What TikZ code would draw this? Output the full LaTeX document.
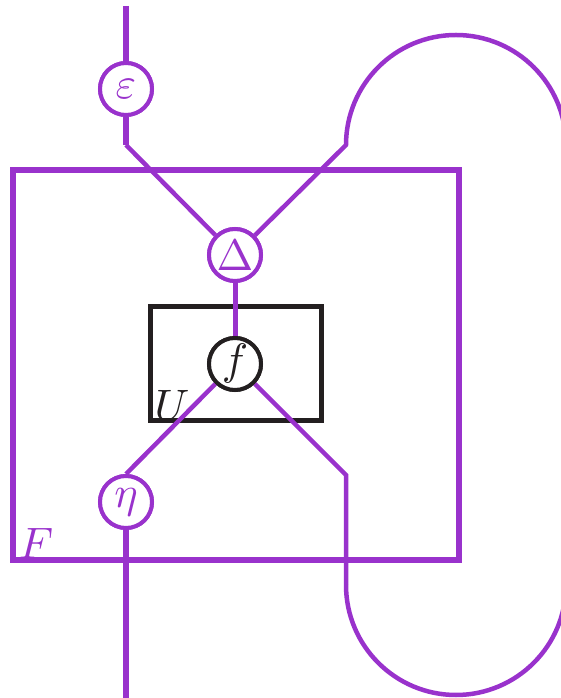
\documentclass[tikz,border=0pt]{standalone}
\usepackage{graphicx}
\definecolor{orch}{RGB}{153,50,204}
\definecolor{ink}{RGB}{35,31,32}
\newcommand{\bigsym}[1]{\scalebox{4.4}{$#1$}}
\begin{document}
\begin{tikzpicture}[x=1pt,y=1pt,
  wire/.style={draw=orch,line width=4.5pt},
  thickwire/.style={draw=orch,line width=6pt},
  frame/.style={draw=orch,line width=5.5pt},
  ubox/.style={draw=ink,line width=5pt},
  pnode/.style={circle,draw=orch,fill=white,line width=4pt,minimum size=52pt,inner sep=0pt,text=orch},
  knode/.style={circle,draw=ink,fill=white,line width=4pt,minimum size=52pt,inner sep=0pt,text=ink},
  lbl/.style={inner sep=0pt}]
\useasboundingbox (0,0) rectangle (561,698);
\clip (0,0) rectangle (561,698);
% coordinates
\coordinate (top) at (126,692);
\coordinate (c1) at (126,553);
\coordinate (c2) at (346,553);
\coordinate (c4) at (346,223);
\coordinate (c5) at (346,113);
\coordinate (bot) at (126,0);
% boxes
\draw[frame] (13,528) rectangle (459,138);
\draw[ubox] (150,391) rectangle (321,277);
% node positions
\coordinate (eps) at (126,609);
\coordinate (delta) at (235,443);
\coordinate (f) at (235,334);
\coordinate (eta) at (126,196);
\node[pnode] (epsn) at (eps) {};
\node[pnode] (deltan) at (delta) {};
\node[knode] (fn) at (f) {};
\node[pnode] (etan) at (eta) {};
% wires
\draw[thickwire] (top) -- (epsn);
\draw[thickwire] (epsn) -- (c1);
\draw[wire] (c1) -- (deltan);
\draw[wire] (deltan) -- (c2) arc[start angle=180,end angle=0,radius=110pt] -- ++(0,-440) arc[start angle=0,end angle=-180,radius=110pt] -- (c5);
\draw[wire,line width=5pt] (deltan) -- (fn);
\draw[wire] (fn) -- (c4) -- (c5);
\draw[wire] (etan.north) -- (fn);
\draw[thickwire] (etan) -- (bot);
% nodes on top
\node[pnode] at (eps) {\bigsym{\varepsilon}};
\node[pnode] at (delta) {\bigsym{\Delta}};
\node[knode] at (f) {\bigsym{f}};
\node[pnode] at (eta) {\bigsym{\eta}};
% labels
\node[lbl,text=ink] (ulbl) at (172,293) {\bigsym{U}};
\node[lbl,text=orch] (flbl) at (36,155) {\bigsym{F}};
\end{tikzpicture}
\end{document}
